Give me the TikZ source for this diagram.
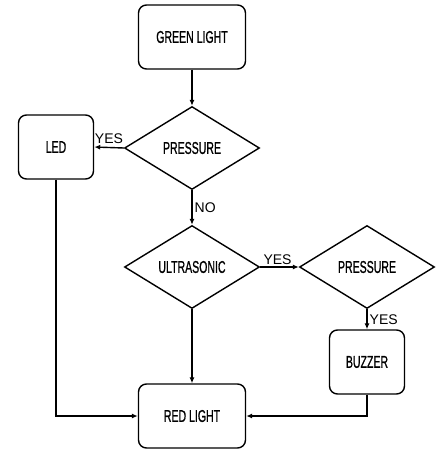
\documentclass[tikz,border=0pt]{standalone}
\usepackage{fontspec}
\setmainfont{Liberation Sans}
\newfontfamily\condfont[FakeBold=1.2]{Liberation Sans}
\usetikzlibrary{shapes.geometric,arrows.meta}
\tikzset{
  box/.style={draw, rounded corners=8pt, line width=1.4pt, minimum width=107pt, minimum height=64pt, inner sep=0pt},
  smallbox/.style={box, minimum width=75pt},
  dec/.style={draw, diamond, line width=1.4pt, inner sep=0pt, minimum width=135pt, minimum height=83pt, aspect=1.63},
  arr/.style={line width=1.4pt, -{Latex[length=6pt,width=5pt]}},
  lbl/.style={font=\fontsize{14}{16}\selectfont, inner sep=3pt},
}
\newcommand{\cond}[1]{\scalebox{0.62}[1]{\condfont\fontsize{17}{19}\selectfont #1}}
\begin{document}
\begin{tikzpicture}[x=1pt,y=-1pt]
\useasboundingbox (0,0) rectangle (437,450);
\node[box] (green) at (192,37) {\cond{GREEN LIGHT}};
\node[dec] (p1) at (192,148) {\cond{PRESSURE}};
\node[smallbox] (led) at (56,147) {\cond{LED}};
\node[dec] (ultra) at (192,267) {\cond{ULTRASONIC}};
\node[dec] (p2) at (367,267) {\cond{PRESSURE}};
\node[smallbox] (buzzer) at (367,362) {\cond{BUZZER}};
\node[box] (red) at (192,416) {\cond{RED LIGHT}};
\draw[arr] (green) -- (p1.north);
\draw[arr] (p1.west) -- node[lbl, pos=0.5, anchor=south] {YES} (led.east);
\draw[arr] (p1.south) -- node[lbl, pos=0.5, anchor=west, inner sep=2pt] {NO} (ultra.north);
\draw[arr] (ultra.east) -- node[lbl, pos=0.45, anchor=south, inner sep=1.5pt] {YES} (p2.west);
\draw[arr] (p2.south) -- node[lbl, pos=0.5, anchor=west, inner sep=2pt] {YES} (buzzer.north);
\draw[arr] (ultra.south) -- (red.north);
\draw[arr] (led.south) |- (red.west);
\draw[arr] (buzzer.south) |- (red.east);
\end{tikzpicture}
\end{document}
